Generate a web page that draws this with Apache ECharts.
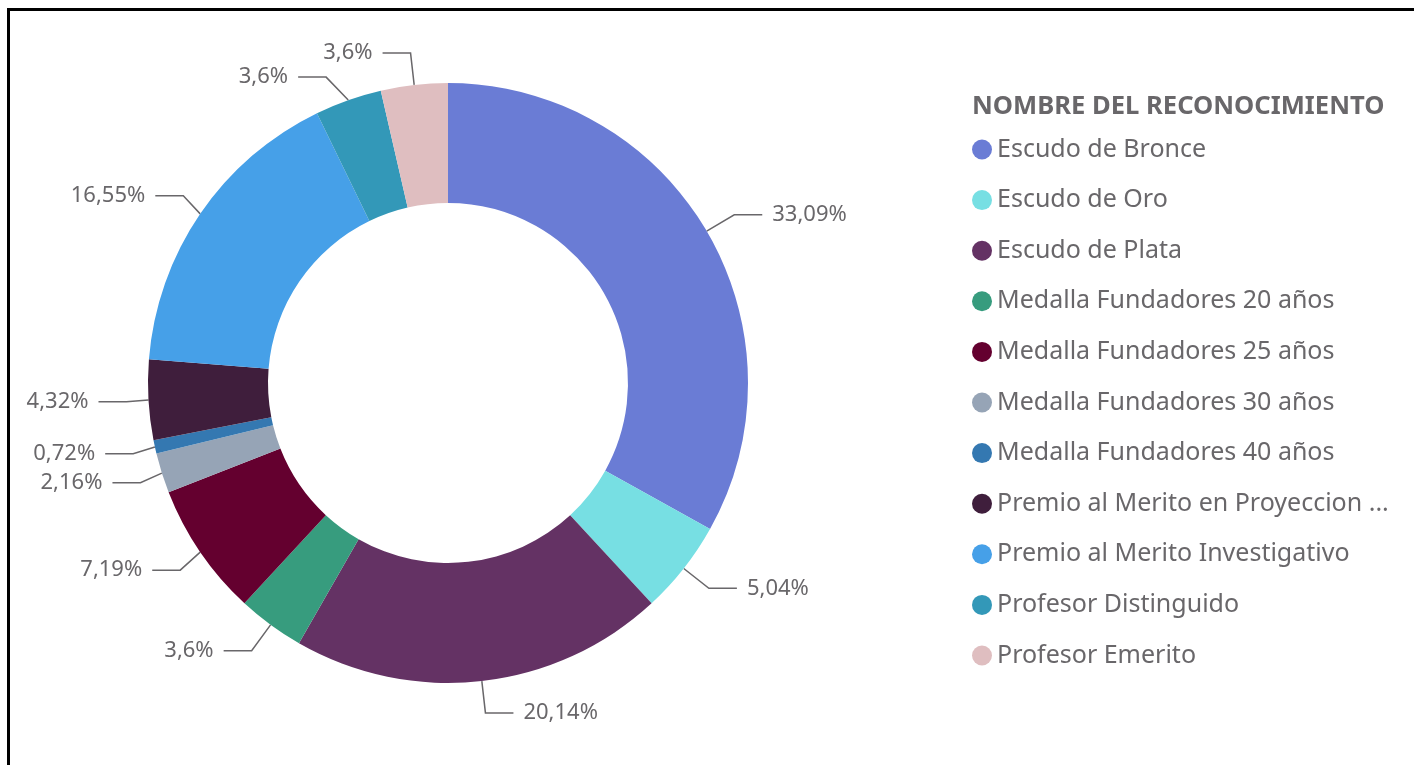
<!DOCTYPE html>
<html>
<head>
<meta charset="utf-8">
<title>Reconocimientos</title>
<script src="https://cdn.jsdelivr.net/npm/echarts@6/dist/echarts.min.js"></script>
<style>
  html, body { margin: 0; padding: 0; background: #fff; }
  .frame {
    position: absolute;
    left: 7px;
    top: 8px;
    width: 1420px;
    height: 770px;
    border-left: 3px solid #000;
    border-top: 3px solid #000;
  }
  #chart { position: absolute; left: 0; top: 0; width: 1414px; height: 765px; }
</style>
</head>
<body>
<div class="frame"></div>
<div id="chart"></div>
<script>
// categorías y conteos (porcentajes sobre 139 reconocimientos)
const categories = [
  'Escudo de Bronce',
  'Escudo de Oro',
  'Escudo de Plata',
  'Medalla Fundadores 20 años',
  'Medalla Fundadores 25 años',
  'Medalla Fundadores 30 años',
  'Medalla Fundadores 40 años',
  'Premio al Merito en Proyeccion Social',
  'Premio al Merito Investigativo',
  'Profesor Distinguido',
  'Profesor Emerito'
]
const counts = [46, 7, 28, 5, 10, 3, 1, 6, 23, 5, 5]
const colors = [
  '#6A7CD5', '#77DFE3', '#643264', '#379C7E', '#64002F', '#96A4B6',
  '#3478B1', '#3F1E3C', '#46A0E8', '#3398B8', '#DFBEC0'
]

const total = counts.reduce((a, b) => a + b, 0)
const FONT = "'Segoe UI', 'Noto Sans', 'Open Sans', sans-serif"
const TEXT_COLOR = '#69676A'

const chart = echarts.init(document.getElementById('chart'))
chart.setOption({
  animation: false,
  color: colors,
  /* título de la leyenda */
  title: {
    text: 'NOMBRE DEL RECONOCIMIENTO',
    left: 967,
    top: 89,
    textStyle: {
      fontFamily: FONT,
      fontSize: 25.6,
      fontWeight: 'bold',
      color: TEXT_COLOR
    }
  },
  legend: {
    orient: 'vertical',
    left: 972,
    top: 137,
    padding: 0,
    icon: 'circle',
    itemWidth: 20,
    itemHeight: 20,
    itemGap: 25.6,
    itemStyle: { borderWidth: 0 },
    textStyle: {
      fontFamily: FONT,
      fontSize: 25,
      color: TEXT_COLOR,
      padding: 0,
      width: 400,
      overflow: 'truncate',
      ellipsis: '...'
    },
    data: categories
  },
  series: [
    {
      type: 'pie',
      center: [448, 383],
      radius: [180, 300],
      startAngle: 90,
      clockwise: true,
      avoidLabelOverlap: true,
      itemStyle: { borderWidth: 0 },
      emphasis: { disabled: true },
      label: {
        show: true,
        fontFamily: FONT,
        fontSize: 22,
        color: TEXT_COLOR,
        distanceToLabelLine: 10,
        formatter: p => {
          const v = Math.round(p.value / total * 10000) / 100
          return String(v).replace('.', ',') + '%'
        }
      },
      labelLine: {
        show: true,
        length: 32,
        length2: 28,
        lineStyle: { color: TEXT_COLOR, width: 1.5 }
      },
      data: categories.map((name, i) => ({ name: name, value: counts[i] }))
    }
  ]
})
</script>
</body>
</html>
